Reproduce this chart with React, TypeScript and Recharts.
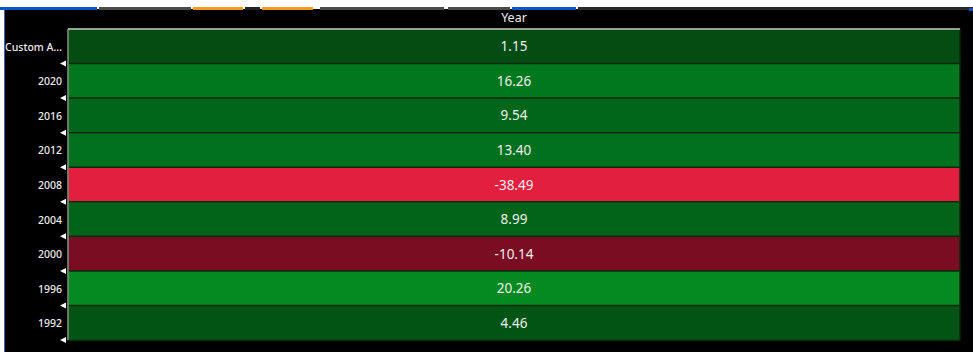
import React from "react";
import { BarChart, Bar, XAxis, YAxis, Cell, LabelList } from "recharts";

const rowLabels = ["Custom A...", "2020", "2016", "2012", "2008", "2004", "2000", "1996", "1992"];
const returnsPct = [1.15, 16.26, 9.54, 13.4, -38.49, 8.99, -10.14, 20.26, 4.46];
const columnLabel = "Year";

// heatmap shades, one per row, as they appear in the reference
const cellColors = [
  "#034d13",
  "#01781e",
  "#02661a",
  "#01711d",
  "#e31f3f",
  "#026418",
  "#7b0d22",
  "#048a20",
  "#025414",
];

const tabs = [
  { left: 0, width: 97, color: "#0b55c8" },
  { left: 99, width: 92, color: "#4a4a4a" },
  { left: 193, width: 50, color: "#f29a1f" },
  { left: 245, width: 15, color: "#222" },
  { left: 262, width: 51, color: "#f29a1f" },
  { left: 320, width: 124, color: "#4a4a4a" },
  { left: 448, width: 62, color: "#4a4a4a" },
  { left: 512, width: 64, color: "#0b55c8" },
  { left: 578, width: 395, color: "#2a2a2a" },
];

const data = rowLabels.map((name, i) => ({ name, span: 1, ret: returnsPct[i] }));

const FONT = "'Noto Sans', 'DejaVu Sans', sans-serif";
const BAND = 311 / rowLabels.length;

function RowTick(props: any) {
  const { x, y, payload } = props;
  const ax = x + 6;
  const by = y + BAND / 2;
  return (
    <g>
      <text
        x={x + 2}
        y={y + 0.5}
        textAnchor="end"
        dominantBaseline="central"
        fill="#ececec"
        fontSize={10.5}
        fontWeight={500}
        fontFamily={FONT}
      >
        {payload.value}
      </text>
      <polygon points={`${ax - 6},${by} ${ax},${by - 3} ${ax},${by + 3}`} fill="#ffffff" />
    </g>
  );
}

export default function App() {
  return (
    <div
      style={{
        position: "absolute",
        left: 0,
        top: 0,
        width: 973,
        height: 357,
        background: "#ffffff",
        overflow: "hidden",
      }}
    >
      <div style={{ position: "absolute", left: 4, top: 9, width: 969, height: 343, background: "#000" }} />
      <div style={{ position: "absolute", left: 4, top: 9, width: 1, height: 343, background: "#3d62a8" }} />
      {tabs.map((t, i) => (
        <div
          key={i}
          style={{ position: "absolute", left: t.left, top: 7, width: t.width, height: 3, background: t.color }}
        />
      ))}
      <div style={{ position: "absolute", left: 969, top: 8, width: 4, height: 3, background: "#0b55c8" }} />
      <div style={{ position: "absolute", left: 0, top: 0 }}>
        <BarChart
          width={973}
          height={357}
          data={data}
          layout="vertical"
          margin={{ top: 9, right: 13, bottom: 17, left: 0 }}
          barCategoryGap={0}
        >
          <XAxis
            type="number"
            orientation="top"
            domain={[0, 1]}
            height={20}
            tick={false}
            tickLine={false}
            axisLine={{ stroke: "#c8c8c8", strokeWidth: 1.5 }}
            label={{ value: columnLabel, position: "center", fill: "#ececec", fontSize: 12.5, fontFamily: FONT, dy: -1 }}
          />
          <YAxis
            type="category"
            dataKey="name"
            width={68}
            tickLine={false}
            axisLine={{ stroke: "#c8c8c8" }}
            tick={<RowTick />}
            interval={0}
          />
          <Bar dataKey="span" isAnimationActive={false} stroke="#0a2a0e" strokeWidth={1.5}>
            {data.map((d, i) => (
              <Cell key={d.name} fill={cellColors[i]} />
            ))}
            <LabelList
              dataKey="ret"
              position="center"
              fill="#eeeeee"
              fontSize={13.5}
              fontFamily={FONT}
              formatter={(v: any) => Number(v).toFixed(2)}
            />
          </Bar>
        </BarChart>
      </div>
    </div>
  );
}
